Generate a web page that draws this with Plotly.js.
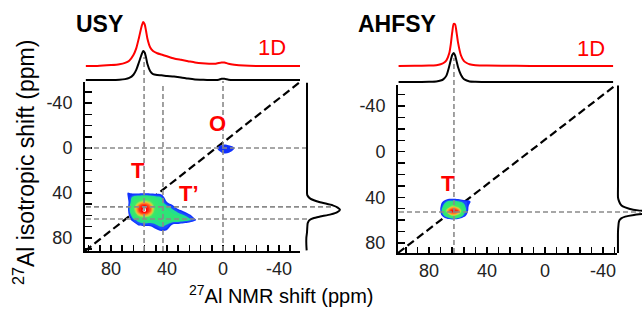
<!DOCTYPE html>
<html>
<head>
<meta charset="utf-8">
<script src="https://cdn.plot.ly/plotly-3.0.1.min.js"></script>
<style>html,body{margin:0;padding:0;background:#fff;}#chart{width:642px;height:322px;}</style>
</head>
<body>
<div id="chart"></div>
<script>
// ---------------- DATA ----------------
// USY: F2 projection / 1D spectrum (x = 27Al NMR shift, ppm)
const usyF2 = [98, 90, 80, 74, 70, 67, 64, 62, 60, 58, 57, 56, 55, 54, 52, 50, 47, 44, 40, 35, 30, 25, 20, 15, 10, 6, 3, 1, -1, -4, -8, -15, -25, -40, -55];
const usy1D = [0, 0, 0.02, 0.04, 0.07, 0.12, 0.25, 0.4, 0.65, 0.92, 1.0, 0.95, 0.8, 0.62, 0.42, 0.34, 0.29, 0.26, 0.22, 0.17, 0.14, 0.11, 0.08, 0.06, 0.05, 0.05, 0.07, 0.08, 0.08, 0.05, 0.03, 0.01, 0, 0, 0];
const usyProjF2 = [0, 0, 0, 0.01, 0.03, 0.07, 0.18, 0.35, 0.62, 0.9, 1.0, 0.95, 0.78, 0.55, 0.3, 0.2, 0.17, 0.16, 0.14, 0.12, 0.09, 0.05, 0.02, 0.01, 0, 0, 0.01, 0.04, 0.04, 0.01, 0, 0, 0, 0, 0];
// USY: F1 projection (y = isotropic shift, ppm)
const usyF1 = [-58, -40, -20, 0, 10, 20, 30, 36, 40, 42, 45, 48, 51, 53, 55, 57, 59, 61, 62.5, 64, 65.5, 67, 70, 75, 80, 86, 91];
const usyProjF1 = [0, 0, 0, 0, 0, 0, 0, 0, 0, 0.01, 0.1, 0.37, 0.78, 0.93, 1.0, 0.92, 0.72, 0.4, 0.19, 0.08, 0.04, 0.02, 0.01, 0, -0.02, -0.02, -0.01];
// USY 2D map: T / T' region
const usyTx = [72, 68, 64, 60, 56, 52, 48, 44, 40, 36, 32, 28, 24, 20, 16];
const usyTy = [36, 40, 44, 48, 52, 56, 60, 64, 68, 72, 76, 80];
const usyTz = [
  [0, 0.04, 0.02, 0.02, 0.02, 0.02, 0.02, 0, 0, 0, 0, 0, 0, 0, 0],
  [0, 0.16, 0.13, 0.13, 0.13, 0.13, 0.12, 0.1, 0, 0, 0, 0, 0, 0, 0],
  [0, 0.15, 0.3, 0.35, 0.38, 0.35, 0.3, 0.25, 0.06, 0, 0, 0, 0, 0, 0],
  [0, 0.12, 0.38, 0.58, 0.66, 0.58, 0.38, 0.3, 0.15, 0.05, 0, 0, 0, 0, 0],
  [0, 0.13, 0.48, 0.82, 0.96, 0.78, 0.45, 0.32, 0.28, 0.2, 0.05, 0, 0, 0, 0],
  [0, 0.13, 0.48, 0.84, 1.0, 0.8, 0.45, 0.35, 0.32, 0.28, 0.22, 0.14, 0.02, 0, 0],
  [0, 0.1, 0.35, 0.62, 0.7, 0.6, 0.4, 0.35, 0.35, 0.32, 0.3, 0.26, 0.2, 0.06, 0],
  [0, 0.06, 0.22, 0.3, 0.35, 0.32, 0.3, 0.32, 0.35, 0.35, 0.35, 0.32, 0.28, 0.18, 0.02],
  [0, 0, 0.06, 0.2, 0.22, 0.22, 0.25, 0.28, 0.25, 0.15, 0.12, 0.08, 0.05, 0.02, 0],
  [0, 0, 0, 0, 0.02, 0.05, 0.15, 0.22, 0.18, 0.02, 0, 0, 0, 0, 0],
  [0, 0, 0, 0, 0, 0, 0.02, 0.06, 0.04, 0, 0, 0, 0, 0, 0],
  [0, 0, 0, 0, 0, 0, 0, 0, 0, 0, 0, 0, 0, 0, 0]
];
// USY 2D map: O region
const usyOx = [8, 4, 0, -4, -8, -12];
const usyOy = [-8, -4, 0, 4, 8];
const usyOz = [
  [0, 0, 0, 0, 0, 0],
  [0, 0.05, 0.13, 0.12, 0.04, 0],
  [0, 0.16, 0.2, 0.2, 0.15, 0],
  [0, 0.1, 0.17, 0.16, 0.08, 0],
  [0, 0, 0.03, 0.03, 0, 0]
];
// AHFSY: F2 projection / 1D spectrum
const ahfF2 = [101, 90, 80, 75, 72, 70, 68, 66, 65, 64, 63, 62, 61, 60, 58, 56, 54, 52, 48, 40, 20, 0, -20, -47];
const ahf1D = [0, 0.005, 0.01, 0.02, 0.04, 0.07, 0.13, 0.3, 0.5, 0.78, 0.98, 0.97, 0.78, 0.55, 0.25, 0.12, 0.07, 0.04, 0.02, 0.01, 0.005, 0, 0, 0];
const ahfProjF2 = [0, 0, 0.01, 0.02, 0.05, 0.1, 0.22, 0.55, 0.75, 0.93, 1.0, 0.92, 0.72, 0.52, 0.25, 0.1, 0.05, 0.02, 0.01, 0, 0, 0, 0, 0];
// AHFSY: F1 projection
const ahfF1 = [-58, 0, 30, 40, 43, 46, 48, 50, 51.5, 53, 54, 55.5, 57, 58.5, 60, 62, 65, 70, 89];
const ahfProjF1 = [0, 0, 0, 0, 0.02, 0.06, 0.12, 0.28, 0.5, 1.0, 0.8, 0.4, 0.18, 0.08, 0.04, 0.02, 0.01, 0, 0];
// AHFSY 2D map
const ahfTx = [76, 72, 68, 64, 60, 56, 52, 48];
const ahfTy = [36, 40, 44, 48, 52, 56, 60, 64];
const ahfTz = [
  [0, 0, 0, 0, 0, 0, 0, 0],
  [0, 0.02, 0.06, 0.08, 0.07, 0.05, 0.06, 0],
  [0, 0.1, 0.25, 0.3, 0.28, 0.22, 0.18, 0],
  [0, 0.15, 0.42, 0.62, 0.52, 0.3, 0.12, 0],
  [0, 0.16, 0.62, 0.95, 0.86, 0.35, 0.08, 0],
  [0, 0.1, 0.36, 0.62, 0.52, 0.22, 0.04, 0],
  [0, 0, 0.04, 0.07, 0.05, 0.02, 0, 0],
  [0, 0, 0, 0, 0, 0, 0, 0]
];
// guide positions (ppm) and labels
const usyGuideF2 = [56.4, 42.9, 0];
const usyGuideF1 = [0, 52.4, 63.1];
const ahfGuideF2 = [62.8];
const ahfGuideF1 = [52.9];
const tickVals = [80, 40, 0, -40];
const tickText = ['80', '40', '0', '-40'];
const yTickVals = [-40, 0, 40, 80];
const yTickText = ['-40', '0', '40', '80'];

// ---------------- LAYOUT HELPERS ----------------
const W = 642, H = 322;
const px = v => v / W;
const py = v => 1 - v / H;
const FONT = 'Liberation Sans, Arial, Helvetica, sans-serif';

const jet = [
  [0, 'rgba(255,255,255,0)'], [0.1, 'rgba(255,255,255,0)'],
  [0.1, '#0f2cff'], [0.18, '#1f55ff'], [0.2, '#10cfd0'], [0.23, '#2ae47a'],
  [0.5, '#3ee868'], [0.6, '#a8e44c'], [0.68, '#ffb030'], [0.78, '#ff6a24'],
  [0.88, '#ff2a14'], [0.95, '#ff0000'], [0.96, '#ffffff'], [1, '#ffffff']
];
function contour(x, y, z, xa, ya) {
  return {
    type: 'contour', x: x, y: y, z: z, xaxis: xa, yaxis: ya,
    zmin: 0, zmax: 1, autocontour: false,
    contours: { start: 0.1, end: 0.95, size: 0.05, coloring: 'fill', showlines: false },
    colorscale: jet, showscale: false, line: { width: 0, smoothing: 1.3 },
    hoverinfo: 'skip'
  };
}
function line(x, y, xa, ya, color) {
  return { type: 'scatter', mode: 'lines', x: x, y: y, xaxis: xa, yaxis: ya,
    line: { color: color, width: 2, shape: 'spline', smoothing: 0.6 }, hoverinfo: 'skip' };
}

const data = [
  line(usyF2, usy1D, 'x', 'y3', '#ff0000'),
  line(usyF2, usyProjF2, 'x', 'y2', '#000000'),
  line(usyProjF1, usyF1, 'x2', 'y', '#000000'),
  contour(usyTx, usyTy, usyTz, 'x', 'y'),
  contour(usyOx, usyOy, usyOz, 'x', 'y'),
  line(ahfF2, ahf1D, 'x3', 'y6', '#ff0000'),
  line(ahfF2, ahfProjF2, 'x3', 'y5', '#000000'),
  line(ahfProjF1, ahfF1, 'x4', 'y4', '#000000'),
  contour(ahfTx, ahfTy, ahfTz, 'x3', 'y4')
];

function mainX(domain, range, anchor) {
  return {
    domain: domain, range: range, anchor: anchor, showgrid: false, zeroline: false,
    showline: true, linecolor: '#000', linewidth: 2,
    ticks: 'inside', ticklen: 6, tickwidth: 1.5, tickcolor: '#000',
    tickmode: 'array', tickvals: tickVals, ticktext: tickText,
    tickfont: { family: FONT, size: 18, color: '#222' }, ticklabelstandoff: 0,
    minor: { tickmode: 'linear', tick0: 0, dtick: 8, ticks: 'inside', ticklen: 6, tickwidth: 1.5, tickcolor: '#000', showgrid: false },
    fixedrange: true
  };
}
function mainY(domain, range, anchor) {
  return {
    domain: domain, range: range, anchor: anchor, showgrid: false, zeroline: false,
    showline: true, linecolor: '#000', linewidth: 2,
    ticks: 'inside', ticklen: 7, tickwidth: 1.5, tickcolor: '#000',
    tickmode: 'array', tickvals: yTickVals, ticktext: yTickText,
    tickfont: { family: FONT, size: 18, color: '#222' }, ticklabelstandoff: 7,
    minor: { tickmode: 'linear', tick0: 0, dtick: 10, ticks: 'inside', ticklen: 7, tickwidth: 1.5, tickcolor: '#000', showgrid: false },
    fixedrange: true
  };
}
const hid = (domain, range, anchor) => ({ domain: domain, range: range, anchor: anchor, visible: false, fixedrange: true });

const grayDash = { color: '#8a8a8a', width: 1.6, dash: '5px,3px' };
const blackDash = { color: '#000', width: 2.2, dash: '8px,4px' };
const shapes = [
  // diagonals
  { type: 'line', xref: 'x domain', yref: 'y domain', x0: 0, y0: 0, x1: 1, y1: 1, line: blackDash, layer: 'below' },
  { type: 'line', xref: 'x3 domain', yref: 'y4 domain', x0: 0, y0: 0, x1: 0.985, y1: 0.99, line: blackDash, layer: 'below' },
  // USY vertical guides
  { type: 'line', xref: 'x', yref: 'paper', x0: usyGuideF2[0], x1: usyGuideF2[0], y0: py(251), y1: py(57), line: grayDash },
  { type: 'line', xref: 'x', yref: 'paper', x0: usyGuideF2[1], x1: usyGuideF2[1], y0: py(251), y1: py(85), line: grayDash },
  { type: 'line', xref: 'x', yref: 'paper', x0: usyGuideF2[2], x1: usyGuideF2[2], y0: py(251), y1: py(81), line: grayDash },
  // USY horizontal guides
  { type: 'line', xref: 'paper', yref: 'y', x0: px(86), x1: px(306), y0: usyGuideF1[0], y1: usyGuideF1[0], line: grayDash },
  { type: 'line', xref: 'paper', yref: 'y', x0: px(86), x1: px(333), y0: usyGuideF1[1], y1: usyGuideF1[1], line: grayDash },
  { type: 'line', xref: 'paper', yref: 'y', x0: px(86), x1: px(310), y0: usyGuideF1[2], y1: usyGuideF1[2], line: grayDash },
  // AHFSY guides
  { type: 'line', xref: 'x3', yref: 'paper', x0: ahfGuideF2[0], x1: ahfGuideF2[0], y0: py(253), y1: py(58), line: grayDash },
  { type: 'line', xref: 'paper', yref: 'y4', x0: px(399), x1: px(641), y0: ahfGuideF1[0], y1: ahfGuideF1[0], line: grayDash }
];

function ann(text, x, y, size, color, bold, angle) {
  return { text: bold ? '<b>' + text + '</b>' : text, xref: 'paper', yref: 'paper', x: px(x), y: py(y),
    xanchor: 'center', yanchor: 'middle', showarrow: false, textangle: angle || 0,
    font: { family: FONT, size: size, color: color } };
}
const annotations = [
  ann('USY', 99, 24, 23, '#000', true),
  ann('AHFSY', 397, 24, 23, '#000', true),
  ann('1D', 272, 47, 22, '#ff0000', false),
  ann('1D', 591, 48, 22, '#ff0000', false),
  ann('T', 138, 170, 22, '#ff0000', true),
  ann('T\u2019', 189, 193, 22, '#ff0000', true),
  ann('O', 217, 123, 22, '#ff0000', true),
  ann('T', 448, 183, 22, '#ff0000', true),
  ann('<sup>27</sup>Al NMR shift (ppm)', 281, 294, 20, '#000', false),
  ann('<sup>27</sup>Al isotropic shift (ppm)', 24, 163, 23, '#000', false, -90)
];

const layout = {
  width: W, height: H, margin: { l: 0, r: 0, t: 0, b: 0 },
  paper_bgcolor: '#fff', plot_bgcolor: 'rgba(0,0,0,0)', showlegend: false,
  font: { family: FONT },
  xaxis: mainX([px(85), px(300)], [98.6, -55], 'y'),
  yaxis: mainY([py(251), py(82)], [91.6, -58.7], 'x'),
  yaxis2: hid([py(85.8), py(45.2)], [-0.2, 1.2], 'x'),
  yaxis3: hid([py(74.8), py(13.2)], [-0.2, 1.2], 'x'),
  xaxis2: hid([px(300.4), px(346.6)], [-0.2, 1.2], 'y'),
  xaxis3: mainX([px(398), px(617)], [101.4, -49.7], 'y4'),
  yaxis4: mainY([py(253), py(85)], [88.9, -58.5], 'x3'),
  yaxis5: hid([py(87.8), py(47.2)], [-0.2, 1.2], 'x3'),
  yaxis6: hid([py(74.6), py(14.4)], [-0.2, 1.2], 'x3'),
  xaxis4: hid([px(612), px(642)], [-0.15, 0.6], 'y4'),
  shapes: shapes,
  annotations: annotations
};

Plotly.newPlot('chart', data, layout, { staticPlot: true, displayModeBar: false });
</script>
</body>
</html>
